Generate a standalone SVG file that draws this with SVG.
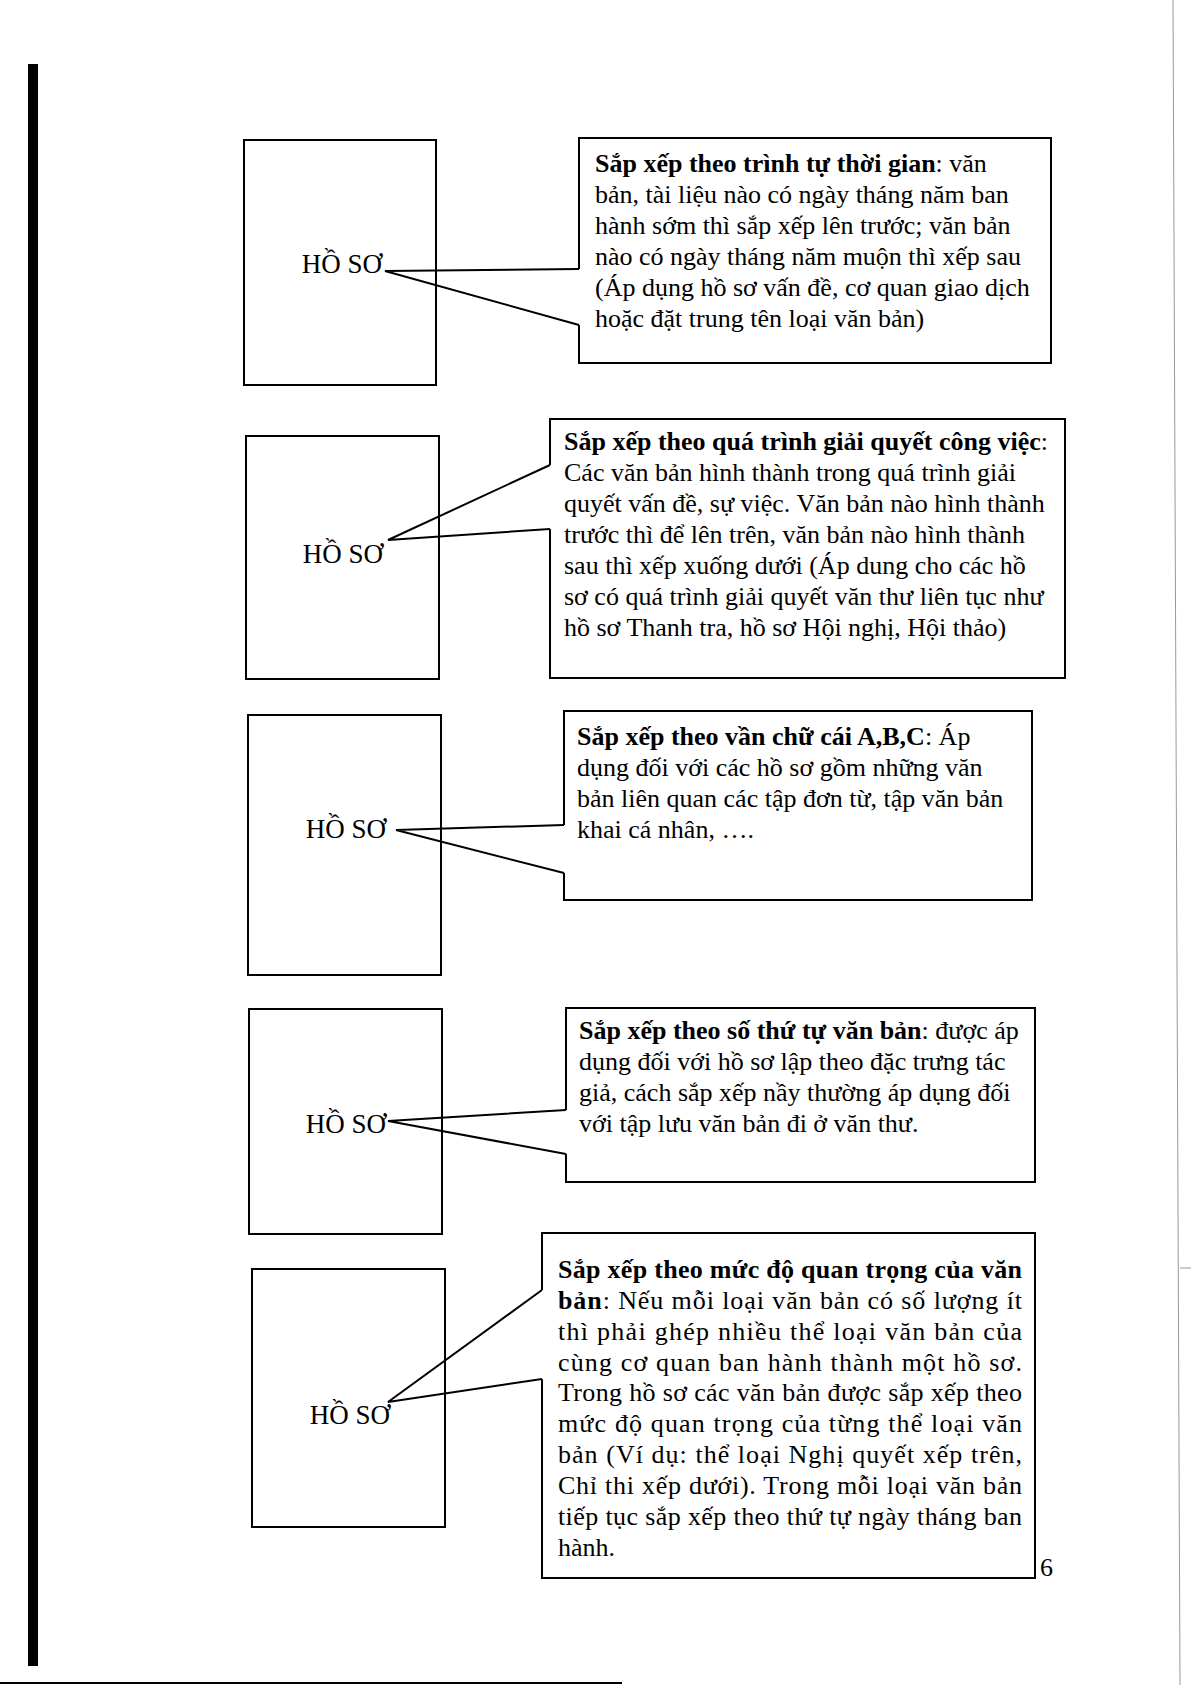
<svg xmlns="http://www.w3.org/2000/svg" width="1191" height="1685" viewBox="0 0 1191 1685">
<style>
.box{fill:none;stroke:#000;stroke-width:2}
.con{fill:none;stroke:#000;stroke-width:2;stroke-linejoin:miter}
.lbl{font-family:"Liberation Serif","Times New Roman",serif;font-size:27px;fill:#000}
.t{font-family:"Liberation Serif","Times New Roman",serif;font-size:26px;fill:#000}
.b{font-weight:bold}
</style>
<rect width="1191" height="1685" fill="#fff"/>
<g id="page-marks">
<rect x="28" y="64" width="10" height="1602" fill="#000"/>
<rect x="0" y="1682" width="622" height="2" fill="#000"/>
<line x1="1173" y1="0" x2="1180" y2="1685" stroke="#999" stroke-width="1"/>
<line x1="1180" y1="1268" x2="1191" y2="1268" stroke="#999" stroke-width="1"/>
</g>

<g id="hoso-1">
<rect class="box" x="244" y="140" width="192" height="245"/>
<text class="lbl" x="382" y="273" text-anchor="end">HỒ SƠ</text>
</g>
<g id="note-1">
<path class="box" d="M579,269 V138 H1051 V363 H579 V325"/>
<text class="t" x="595" y="172"><tspan class="b">Sắp xếp theo trình tự thời gian</tspan>: văn</text>
<text class="t" x="595" y="203">bản, tài liệu nào có ngày tháng năm ban</text>
<text class="t" x="595" y="234">hành sớm thì sắp xếp lên trước; văn bản</text>
<text class="t" x="595" y="265">nào có ngày tháng năm muộn thì xếp sau</text>
<text class="t" x="595" y="296">(Áp dụng hồ sơ vấn đề, cơ quan giao dịch</text>
<text class="t" x="595" y="327">hoặc đặt trung tên loại văn bản)</text>
</g>

<g id="hoso-2">
<rect class="box" x="246" y="436" width="193" height="243"/>
<text class="lbl" x="383" y="563" text-anchor="end">HỒ SƠ</text>
</g>
<g id="note-2">
<path class="box" d="M550,465 V419 H1065 V678 H550 V529"/>
<text class="t" x="564" y="450"><tspan class="b">Sắp xếp theo quá trình giải quyết công việc</tspan>:</text>
<text class="t" x="564" y="481">Các văn bản hình thành trong quá trình giải</text>
<text class="t" x="564" y="512">quyết vấn đề, sự việc. Văn bản nào hình thành</text>
<text class="t" x="564" y="543">trước thì để lên trên, văn bản nào hình thành</text>
<text class="t" x="564" y="574">sau thì xếp xuống dưới (Áp dung cho các hồ</text>
<text class="t" x="564" y="605">sơ có quá trình giải quyết văn thư liên tục như</text>
<text class="t" x="564" y="636">hồ sơ Thanh tra, hồ sơ Hội nghị, Hội thảo)</text>
</g>

<g id="hoso-3">
<rect class="box" x="248" y="715" width="193" height="260"/>
<text class="lbl" x="386" y="838" text-anchor="end">HỒ SƠ</text>
</g>
<g id="note-3">
<path class="box" d="M564,825 V711 H1032 V900 H564 V873"/>
<text class="t" x="577" y="745"><tspan class="b">Sắp xếp theo vần chữ cái A,B,C</tspan>: Áp</text>
<text class="t" x="577" y="776">dụng đối với các hồ sơ gồm những văn</text>
<text class="t" x="577" y="807">bản liên quan các tập đơn từ, tập văn bản</text>
<text class="t" x="577" y="838">khai cá nhân, ….</text>
</g>

<g id="hoso-4">
<rect class="box" x="249" y="1009" width="193" height="225"/>
<text class="lbl" x="386" y="1133" text-anchor="end">HỒ SƠ</text>
</g>
<g id="note-4">
<path class="box" d="M566,1110 V1008 H1035 V1182 H566 V1154"/>
<text class="t" x="579" y="1039"><tspan class="b">Sắp xếp theo số thứ tự văn bản</tspan>: được áp</text>
<text class="t" x="579" y="1070">dụng đối với hồ sơ lập theo đặc trưng tác</text>
<text class="t" x="579" y="1101">giả, cách sắp xếp nầy thường áp dụng đối</text>
<text class="t" x="579" y="1132">với tập lưu văn bản đi ở văn thư.</text>
</g>

<g id="hoso-5">
<rect class="box" x="252" y="1269" width="193" height="258"/>
<text class="lbl" x="390" y="1424" text-anchor="end">HỒ SƠ</text>
</g>
<g id="note-5">
<path class="box" d="M542,1290 V1233 H1035 V1578 H542 V1379"/>
<text class="t" x="558" y="1278" textLength="464" lengthAdjust="spacing"><tspan class="b">Sắp xếp theo mức độ quan trọng của văn</tspan></text>
<text class="t" x="558" y="1309" textLength="464" lengthAdjust="spacing"><tspan class="b">bản</tspan>: Nếu mỗi loại văn bản có số lượng ít</text>
<text class="t" x="558" y="1340" textLength="464" lengthAdjust="spacing">thì phải ghép nhiều thể loại văn bản của</text>
<text class="t" x="558" y="1371" textLength="464" lengthAdjust="spacing">cùng cơ quan ban hành thành một hồ sơ.</text>
<text class="t" x="558" y="1401" textLength="464" lengthAdjust="spacing">Trong hồ sơ các văn bản được sắp xếp theo</text>
<text class="t" x="558" y="1432" textLength="464" lengthAdjust="spacing">mức độ quan trọng của từng thể loại văn</text>
<text class="t" x="558" y="1463" textLength="464" lengthAdjust="spacing">bản (Ví dụ: thể loại Nghị quyết xếp trên,</text>
<text class="t" x="558" y="1494" textLength="464" lengthAdjust="spacing">Chỉ thi xếp dưới). Trong mỗi loại văn bản</text>
<text class="t" x="558" y="1525" textLength="464" lengthAdjust="spacing">tiếp tục sắp xếp theo thứ tự ngày tháng ban</text>
<text class="t" x="558" y="1556">hành.</text>
</g>

<g id="connectors">
<polyline class="con" points="579,269 385,271 579,325"/>
<polyline class="con" points="550,465 388,540 550,529"/>
<polyline class="con" points="564,825 396,830 564,873"/>
<polyline class="con" points="566,1110 388,1121 566,1154"/>
<polyline class="con" points="542,1290 388,1402 542,1379"/>
</g>

<text id="page-number" class="t" x="1040" y="1576">6</text>
</svg>
